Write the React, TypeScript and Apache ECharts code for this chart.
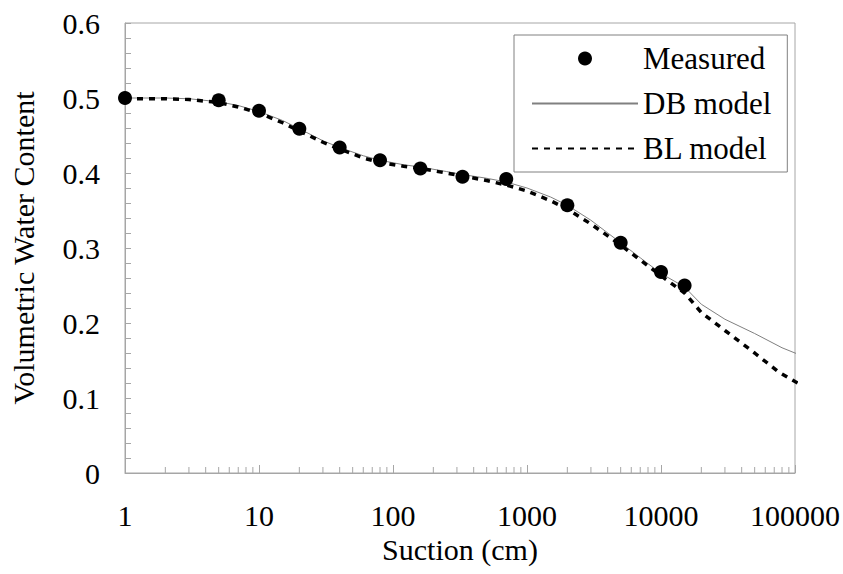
import React, { useEffect, useRef } from "react";
import * as echarts from "echarts";

const measuredSuction = [1, 5, 10, 20, 40, 80, 160, 330, 700, 2000, 5000, 10000, 15000];
const measuredTheta = [0.5, 0.497, 0.483, 0.459, 0.434, 0.417, 0.406, 0.395, 0.392, 0.357, 0.307, 0.268, 0.25];

const dbSuction = [1, 2, 3, 5, 7, 10, 15, 20, 30, 40, 60, 80, 120, 160, 250, 330, 500, 700, 1000, 1500, 2000, 3000, 5000, 7000, 10000, 15000, 20000, 30000, 50000, 80000, 100000, 115000];
const dbTheta = [0.5, 0.5, 0.499, 0.495, 0.49, 0.482, 0.47, 0.459, 0.443, 0.434, 0.423, 0.417, 0.411, 0.408, 0.402, 0.398, 0.393, 0.388, 0.38, 0.368, 0.357, 0.337, 0.307, 0.287, 0.266, 0.248, 0.225, 0.205, 0.186, 0.167, 0.16, 0.156];

const blSuction = [1, 2, 3, 5, 7, 10, 15, 20, 30, 40, 60, 80, 120, 160, 250, 330, 500, 700, 1000, 1500, 2000, 3000, 5000, 7000, 10000, 15000, 20000, 30000, 50000, 75000, 100000, 120000];
const blTheta = [0.499, 0.499, 0.498, 0.494, 0.488, 0.48, 0.467, 0.456, 0.441, 0.432, 0.42, 0.414, 0.409, 0.406, 0.4, 0.396, 0.39, 0.384, 0.376, 0.363, 0.352, 0.332, 0.304, 0.284, 0.263, 0.24, 0.214, 0.19, 0.16, 0.135, 0.122, 0.114];

const xTickLabels = ["1", "10", "100", "1000", "10000", "100000"];
const xMinorTicks = [2, 3, 4, 5, 6, 7, 8, 9, 20, 30, 40, 50, 60, 70, 80, 90, 200, 300, 400, 500, 600, 700, 800, 900, 2000, 3000, 4000, 5000, 6000, 7000, 8000, 9000, 20000, 30000, 40000, 50000, 60000, 70000, 80000, 90000];

const FONT = "Liberation Serif";
const AXIS_COLOR = "#a6a6a6";

export default function App() {
  const ref = useRef<HTMLDivElement>(null);
  useEffect(() => {
    if (!ref.current) return;
    const chart = echarts.init(ref.current, null, { renderer: "svg" });
    const zip = (xs: number[], ys: number[]) => xs.map((x, i) => [x, ys[i]]);
    chart.setOption({
      animation: false,
      backgroundColor: "#ffffff",
      grid: {
        left: 123,
        right: 48,
        top: 23,
        bottom: 101,
        show: true,
        borderColor: AXIS_COLOR,
        borderWidth: 1,
      },
      legend: {
        data: [
          { name: "Measured" },
          { name: "DB model", itemStyle: { opacity: 0 } },
          { name: "BL model", itemStyle: { opacity: 0 } },
        ],
        orient: "vertical",
        left: 514,
        top: 35,
        align: "left",
        padding: [8, 16, 8, 17],
        itemWidth: 106,
        itemHeight: 14,
        itemGap: 14,
        borderColor: "#808080",
        borderWidth: 1,
        backgroundColor: "#ffffff",
        textStyle: { fontFamily: FONT, fontSize: 31, color: "#000", lineHeight: 30 },
      },
      xAxis: {
        type: "log",
        logBase: 10,
        min: 1,
        max: 100000,
        name: "Suction (cm)",
        nameLocation: "middle",
        nameGap: 52,
        nameTextStyle: { fontFamily: FONT, fontSize: 30, color: "#000" },
        axisLine: { show: true, lineStyle: { color: AXIS_COLOR, width: 1 } },
        axisTick: { show: true, inside: true, length: 8, lineStyle: { color: AXIS_COLOR } },
        splitLine: { show: false },
        axisLabel: {
          fontFamily: FONT,
          fontSize: 30,
          color: "#000",
          margin: 27,
          formatter: (v: number) => xTickLabels[Math.round(Math.log10(v))] ?? "",
        },
      },
      yAxis: {
        type: "value",
        min: 0,
        max: 0.6,
        interval: 0.1,
        name: "Volumetric Water Content",
        nameLocation: "middle",
        nameGap: 87,
        nameTextStyle: { fontFamily: FONT, fontSize: 30, color: "#000" },
        axisLine: { show: true, lineStyle: { color: AXIS_COLOR, width: 1 } },
        axisTick: { show: true, inside: true, length: 6, lineStyle: { color: AXIS_COLOR } },
        minorTick: { show: true, splitNumber: 5, length: 6, lineStyle: { color: AXIS_COLOR } },
        splitLine: { show: false },
        axisLabel: {
          fontFamily: FONT,
          fontSize: 30,
          color: "#000",
          margin: 25,
          formatter: (v: number) => (v === 0 ? "0" : String(Math.round(v * 10) / 10)),
        },
      },
      series: [
        {
          name: "minorTicks",
          type: "custom",
          silent: true,
          data: xMinorTicks.map((v) => [v, 0]),
          renderItem: (params: any, api: any) => {
            const p = api.coord([api.value(0), 0]);
            return {
              type: "line",
              shape: { x1: p[0], y1: p[1], x2: p[0], y2: p[1] - 6 },
              style: { stroke: AXIS_COLOR, lineWidth: 1 },
            };
          },
          z: 1,
        },
        {
          name: "DB model",
          type: "line",
          data: zip(dbSuction, dbTheta),
          symbol: "none",
          showSymbol: false,
          clip: false,
          lineStyle: { color: "#808080", width: 1 },
          itemStyle: { color: "#808080" },
          z: 2,
        },
        {
          name: "BL model",
          type: "line",
          data: zip(blSuction, blTheta),
          symbol: "none",
          showSymbol: false,
          clip: false,
          lineStyle: { color: "#000000", width: 3.5, type: [6, 6] },
          itemStyle: { color: "#000000" },
          z: 3,
        },
        {
          name: "Measured",
          type: "scatter",
          data: zip(measuredSuction, measuredTheta),
          symbol: "circle",
          symbolSize: 14,
          itemStyle: { color: "#000000", opacity: 1 },
          z: 4,
        },
      ],
    });
    return () => chart.dispose();
  }, []);
  return (
    <div
      ref={ref}
      style={{ position: "fixed", left: 0, top: 0, width: 843, height: 574 }}
    />
  );
}
